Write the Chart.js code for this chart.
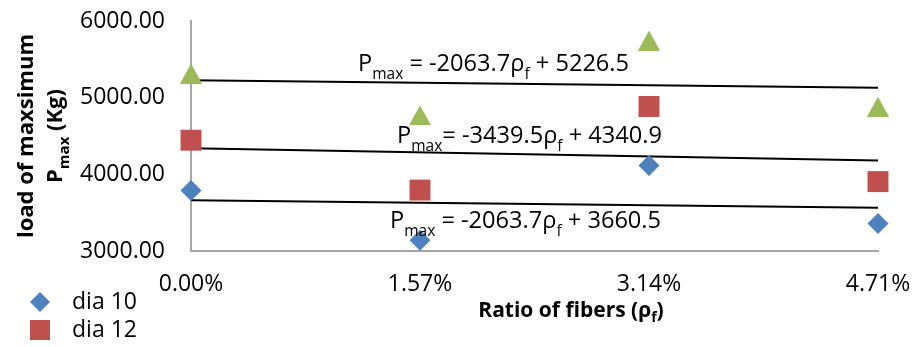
<!DOCTYPE html>
<html>
<head>
<meta charset="utf-8">
<script src="https://cdn.jsdelivr.net/npm/chart.js@4.4.0/dist/chart.umd.min.js"></script>
<style>
  html, body { margin: 0; padding: 0; background: #ffffff; }
  #wrap { width: 912px; height: 347px; position: relative; }
</style>
</head>
<body>
<div id="wrap"><canvas id="chart"></canvas></div>
<script>
// Fibre ratio (as a fraction) and its axis labels
const fiberRatios = [0, 0.0157, 0.0314, 0.0471];
const xTickLabels = ['0.00%', '1.57%', '3.14%', '4.71%'];
const yTicks = [3000, 4000, 5000, 6000];

// Maximum load (Kg) per bar diameter
const seriesNames = ['dia 10', 'dia 12', 'dia 16'];
const dia10 = [3790, 3140, 4115, 3360];
const dia12 = [4445, 3795, 4885, 3905];
const dia16 = [5315, 4770, 5745, 4882];

// Linear trend lines: Pmax = slope * rho_f + intercept
const trendSlopes = [-2063.7, -3439.5, -2063.7];
const trendIntercepts = [3660.5, 4340.9, 5226.5];

const FONT = '"Open Sans", "DejaVu Sans", sans-serif';
const colors = ['#4f81bd', '#c0504d', '#9bbb59'];
const seriesValues = [dia10, dia12, dia16];

// Triangle marker centred in its own box
function triangleMarker(w, h, color) {
  const c = document.createElement('canvas');
  c.width = w; c.height = h;
  const g = c.getContext('2d');
  g.fillStyle = color;
  g.beginPath();
  g.moveTo(w / 2, 0);
  g.lineTo(w, h);
  g.lineTo(0, h);
  g.closePath();
  g.fill();
  return c;
}
const triangle = triangleMarker(22, 20, colors[2]);
const pointStyles = ['rectRot', 'rect', triangle];
const pointRadii = [10.5, 14.8, 11];

const xMax = fiberRatios[fiberRatios.length - 1];

const markerSets = seriesValues.map((vals, i) => ({
  type: 'scatter',
  label: seriesNames[i],
  data: vals.map((v, k) => ({ x: fiberRatios[k], y: v })),
  backgroundColor: colors[i],
  borderColor: colors[i],
  borderWidth: 0,
  pointStyle: pointStyles[i],
  pointRadius: pointRadii[i],
  pointHoverRadius: pointRadii[i],
  clip: false,
  order: 1
}));

const trendSets = trendSlopes.map((m, i) => ({
  type: 'line',
  label: 'trend ' + seriesNames[i],
  data: [0, xMax].map(x => ({ x: x, y: m * x + trendIntercepts[i] })),
  borderColor: '#000000',
  borderWidth: 2,
  pointRadius: 0,
  fill: false,
  tension: 0,
  order: 2
}));

// Text with subscripts: parts = [[text, isSub], ...]
function richWidth(ctx, parts, size, subSize, bold) {
  let w = 0;
  for (const [t, sub] of parts) {
    ctx.font = (bold ? 'bold ' : '') + (sub ? subSize : size) + 'px ' + FONT;
    w += ctx.measureText(t).width;
  }
  return w;
}
function drawRich(ctx, parts, x, y, size, subSize, bold, subDrop) {
  ctx.textBaseline = 'alphabetic';
  ctx.textAlign = 'left';
  let cx = x;
  for (const [t, sub] of parts) {
    ctx.font = (bold ? 'bold ' : '') + (sub ? subSize : size) + 'px ' + FONT;
    ctx.fillText(t, cx, sub ? y + subDrop : y);
    cx += ctx.measureText(t).width;
  }
}

function equationParts(i, tight) {
  return [
    ['P', false], ['max', true],
    [(tight ? '= ' : ' = ') + trendSlopes[i].toFixed(1), false],
    ['\u03c1', false], ['f', true],
    [' + ' + trendIntercepts[i].toFixed(1), false]
  ];
}

const overlay = {
  id: 'overlay',
  afterDraw(chart) {
    const ctx = chart.ctx;
    const a = chart.chartArea;
    ctx.save();
    ctx.fillStyle = '#000000';

    // trend equations (offsets from the plot corner)
    const eq = [
      { i: 2, dx: 167, dy: 50, tight: false },
      { i: 1, dx: 206, dy: 122, tight: true },
      { i: 0, dx: 199, dy: 207, tight: false }
    ];
    for (const e of eq) {
      drawRich(ctx, equationParts(e.i, e.tight), a.left + e.dx, a.top + e.dy, 23.6, 15.5, false, 7.5);
    }

    // y axis title, two rotated lines
    const yMid = (a.top + a.bottom) / 2;
    const line1 = [['load of maxsimum', false]];
    const line2 = [['P', false], ['max', true], [' (Kg)', false]];
    ctx.save();
    ctx.translate(33, yMid);
    ctx.rotate(-Math.PI / 2);
    drawRich(ctx, line1, -richWidth(ctx, line1, 22, 15, true) / 2, 0, 22, 15, true, 7);
    ctx.restore();
    ctx.save();
    ctx.translate(62, yMid);
    ctx.rotate(-Math.PI / 2);
    drawRich(ctx, line2, -richWidth(ctx, line2, 22, 15, true) / 2, 0, 22, 15, true, 7);
    ctx.restore();

    // x axis title
    const xt = [['Ratio of fibers (\u03c1', false], ['f', true], [')', false]];
    drawRich(ctx, xt, 571 - richWidth(ctx, xt, 21, 14, true) / 2, 317, 21, 14, true, 5);

    // legend, bottom left
    seriesNames.forEach((name, i) => {
      const cy = 302 + i * 28;
      const cx = 40;
      ctx.fillStyle = colors[i];
      ctx.beginPath();
      if (i === 0) {
        ctx.moveTo(cx, cy - 10); ctx.lineTo(cx + 10, cy); ctx.lineTo(cx, cy + 10); ctx.lineTo(cx - 10, cy);
        ctx.closePath(); ctx.fill();
      } else if (i === 1) {
        ctx.fillRect(cx - 10, cy - 10, 20, 20);
      } else {
        ctx.drawImage(triangle, cx - 11, cy - 10);
      }
      ctx.fillStyle = '#000000';
      ctx.font = '23px ' + FONT;
      ctx.textBaseline = 'middle';
      ctx.textAlign = 'left';
      ctx.fillText(name, 72, cy);
    });
    ctx.restore();
  }
};

new Chart(document.getElementById('chart'), {
  type: 'scatter',
  data: { datasets: [...markerSets, ...trendSets] },
  options: {
    responsive: true,
    maintainAspectRatio: false,
    devicePixelRatio: 1,
    animation: false,
    events: [],
    layout: { padding: { top: 21, right: 34, left: 0, bottom: 0 } },
    plugins: { legend: { display: false }, tooltip: { enabled: false } },
    scales: {
      x: {
        type: 'linear',
        min: 0,
        max: xMax,
        afterBuildTicks: s => { s.ticks = fiberRatios.map(v => ({ value: v })); },
        afterFit: s => { s.height = 96; s.paddingLeft = 0; s.paddingRight = 0; },
        grid: { color: 'rgba(0,0,0,0)', drawTicks: false },
        border: { display: true, color: '#a6a6a6', width: 2 },
        ticks: {
          padding: 20,
          color: '#000000',
          font: { family: FONT, size: 23 },
          callback: (v, idx) => xTickLabels[idx]
        }
      },
      y: {
        min: yTicks[0],
        max: yTicks[yTicks.length - 1],
        afterBuildTicks: s => { s.ticks = yTicks.map(v => ({ value: v })); },
        afterFit: s => { s.width = 191; s.paddingTop = 0; s.paddingBottom = 0; },
        grid: { color: 'rgba(0,0,0,0)', drawTicks: false },
        border: { display: true, color: '#a6a6a6', width: 2 },
        ticks: {
          padding: 26,
          color: '#000000',
          font: { family: FONT, size: 23 },
          callback: v => Number(v).toFixed(2)
        }
      }
    }
  },
  plugins: [overlay]
});
</script>
</body>
</html>
